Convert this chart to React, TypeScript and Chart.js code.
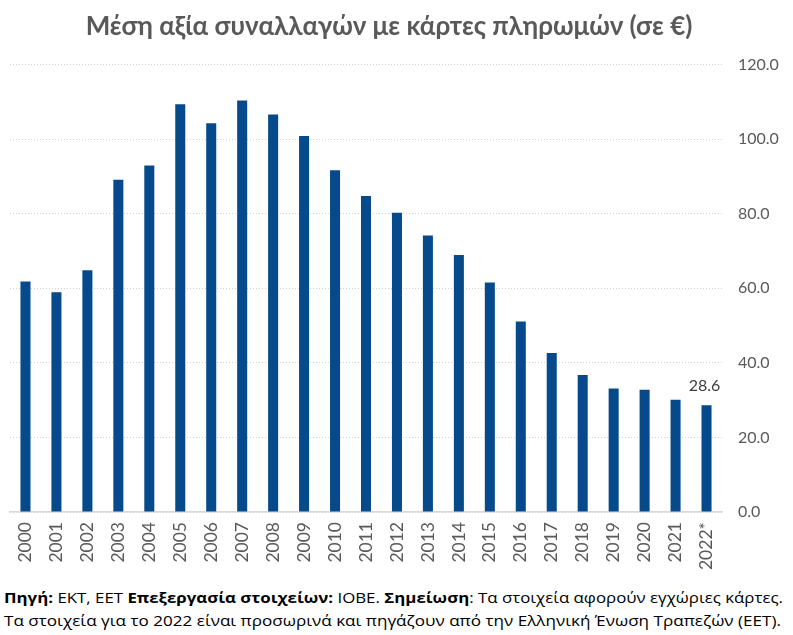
import React, { useEffect, useLayoutEffect, useRef } from "react";
import { Chart, registerables } from "chart.js";

Chart.register(...registerables);

const years = [
  "2000", "2001", "2002", "2003", "2004", "2005", "2006", "2007", "2008", "2009", "2010", "2011",
  "2012", "2013", "2014", "2015", "2016", "2017", "2018", "2019", "2020", "2021", "2022*",
];
const avgValue = [
  61.8, 58.9, 64.8, 89.1, 92.9, 109.3, 104.2, 110.3, 106.6, 100.8, 91.6, 84.7,
  80.2, 74.1, 68.9, 61.5, 51.1, 42.6, 36.7, 33.1, 32.8, 30.1, 28.6,
];
const yMin = 0;
const yMax = 120;
const yStep = 20;
const labelledYears = ["2022*"];
const titleText = "Μέση αξία συναλλαγών με κάρτες πληρωμών (σε €)";

const FONT = "Lato, 'Open Sans', 'Noto Sans', sans-serif";
const NOTE_FONT = "'Open Sans', 'Noto Sans', sans-serif";
const BAR = "#064A8B";
const GREY = "#595959";

const valueLabelPlugin = {
  id: "valueLabel",
  afterDatasetsDraw(chart: any) {
    const meta = chart.getDatasetMeta(0);
    const ctx = chart.ctx;
    ctx.save();
    ctx.font = `16px ${FONT}`;
    ctx.fillStyle = "#404040";
    ctx.textAlign = "center";
    ctx.textBaseline = "alphabetic";
    years.forEach((y, i) => {
      if (!labelledYears.includes(y)) return;
      const el = meta.data[i];
      ctx.fillText(avgValue[i].toFixed(1), el.x - 2, el.y - 14);
    });
    ctx.restore();
  },
};

const titlePlugin = {
  id: "customTitle",
  afterDraw(chart: any) {
    const ctx = chart.ctx;
    ctx.save();
    ctx.font = `bold 26px ${FONT}`;
    ctx.fillStyle = GREY;
    ctx.textAlign = "center";
    ctx.textBaseline = "middle";
    ctx.fillText(titleText, 389, 26.5);
    ctx.restore();
  },
};

export default function App() {
  const ref = useRef<HTMLCanvasElement | null>(null);
  const line1 = useRef<HTMLSpanElement | null>(null);
  const line2 = useRef<HTMLSpanElement | null>(null);

  useLayoutEffect(() => {
    const fit = (el: HTMLSpanElement | null, target: number) => {
      if (!el) return;
      el.style.transform = "none";
      const w = el.getBoundingClientRect().width;
      if (w > 0) el.style.transform = `scaleX(${target / w})`;
    };
    fit(line1.current, 779);
    fit(line2.current, 777);
  }, []);

  useEffect(() => {
    if (!ref.current) return;
    const chart = new Chart(ref.current, {
      type: "bar",
      data: {
        labels: years,
        datasets: [
          {
            data: avgValue,
            backgroundColor: BAR,
            borderWidth: 0,
            barPercentage: 0.9,
            categoryPercentage: 0.36,
          },
        ],
      },
      options: {
        animation: false,
        responsive: false,
        devicePixelRatio: 1,
        layout: { padding: { left: 10, top: 64.4, right: 0, bottom: 0 } },
        plugins: {
          legend: { display: false },
          tooltip: { enabled: false },
          title: { display: false },
        },
        scales: {
          x: {
            type: "category",
            offset: true,
            grid: { display: false, drawTicks: false },
            border: { display: true, color: "#D9D9D9", width: 1.5 },
            ticks: {
              autoSkip: false,
              minRotation: 90,
              maxRotation: 90,
              padding: 10,
              color: GREY,
              font: { family: FONT, size: 17.5 },
            },
            afterFit: (s: any) => {
              s.height = 68;
            },
          },
          y: {
            position: "right",
            min: yMin,
            max: yMax,
            grid: { color: "#D0D0D0", lineWidth: 1, drawTicks: false },
            border: { display: false, dash: [1, 2] },
            ticks: {
              stepSize: yStep,
              padding: 16,
              color: GREY,
              font: { family: FONT, size: 16 },
              callback: (v: any) => Number(v).toFixed(1),
            },
            afterFit: (s: any) => {
              s.width = 71;
            },
          },
        },
      },
      plugins: [valueLabelPlugin, titlePlugin],
    });
    return () => chart.destroy();
  }, []);

  const noteStyle: React.CSSProperties = {
    position: "absolute",
    left: 4,
    top: 586,
    fontFamily: NOTE_FONT,
    fontSize: 14.5,
    lineHeight: "23px",
    color: "#000",
    whiteSpace: "nowrap",
  };
  const lineStyle: React.CSSProperties = {
    display: "inline-block",
    transformOrigin: "0 0",
  };

  return (
    <div
      style={{
        position: "fixed",
        left: 0,
        top: 0,
        width: 793,
        height: 635,
        background: "#fff",
        overflow: "hidden",
      }}
    >
      <canvas ref={ref} width={793} height={580} style={{ display: "block" }} />
      <div style={noteStyle}>
        <div>
          <span ref={line1} style={lineStyle}>
            <b>Πηγή:</b> ΕΚΤ, ΕΕΤ <b>Επεξεργασία στοιχείων:</b> ΙΟΒΕ. <b>Σημείωση</b>: Τα στοιχεία αφορούν εγχώριες κάρτες.
          </span>
        </div>
        <div>
          <span ref={line2} style={lineStyle}>
            Τα στοιχεία για το 2022 είναι προσωρινά και πηγάζουν από την Ελληνική Ένωση Τραπεζών (ΕΕΤ).
          </span>
        </div>
      </div>
    </div>
  );
}
